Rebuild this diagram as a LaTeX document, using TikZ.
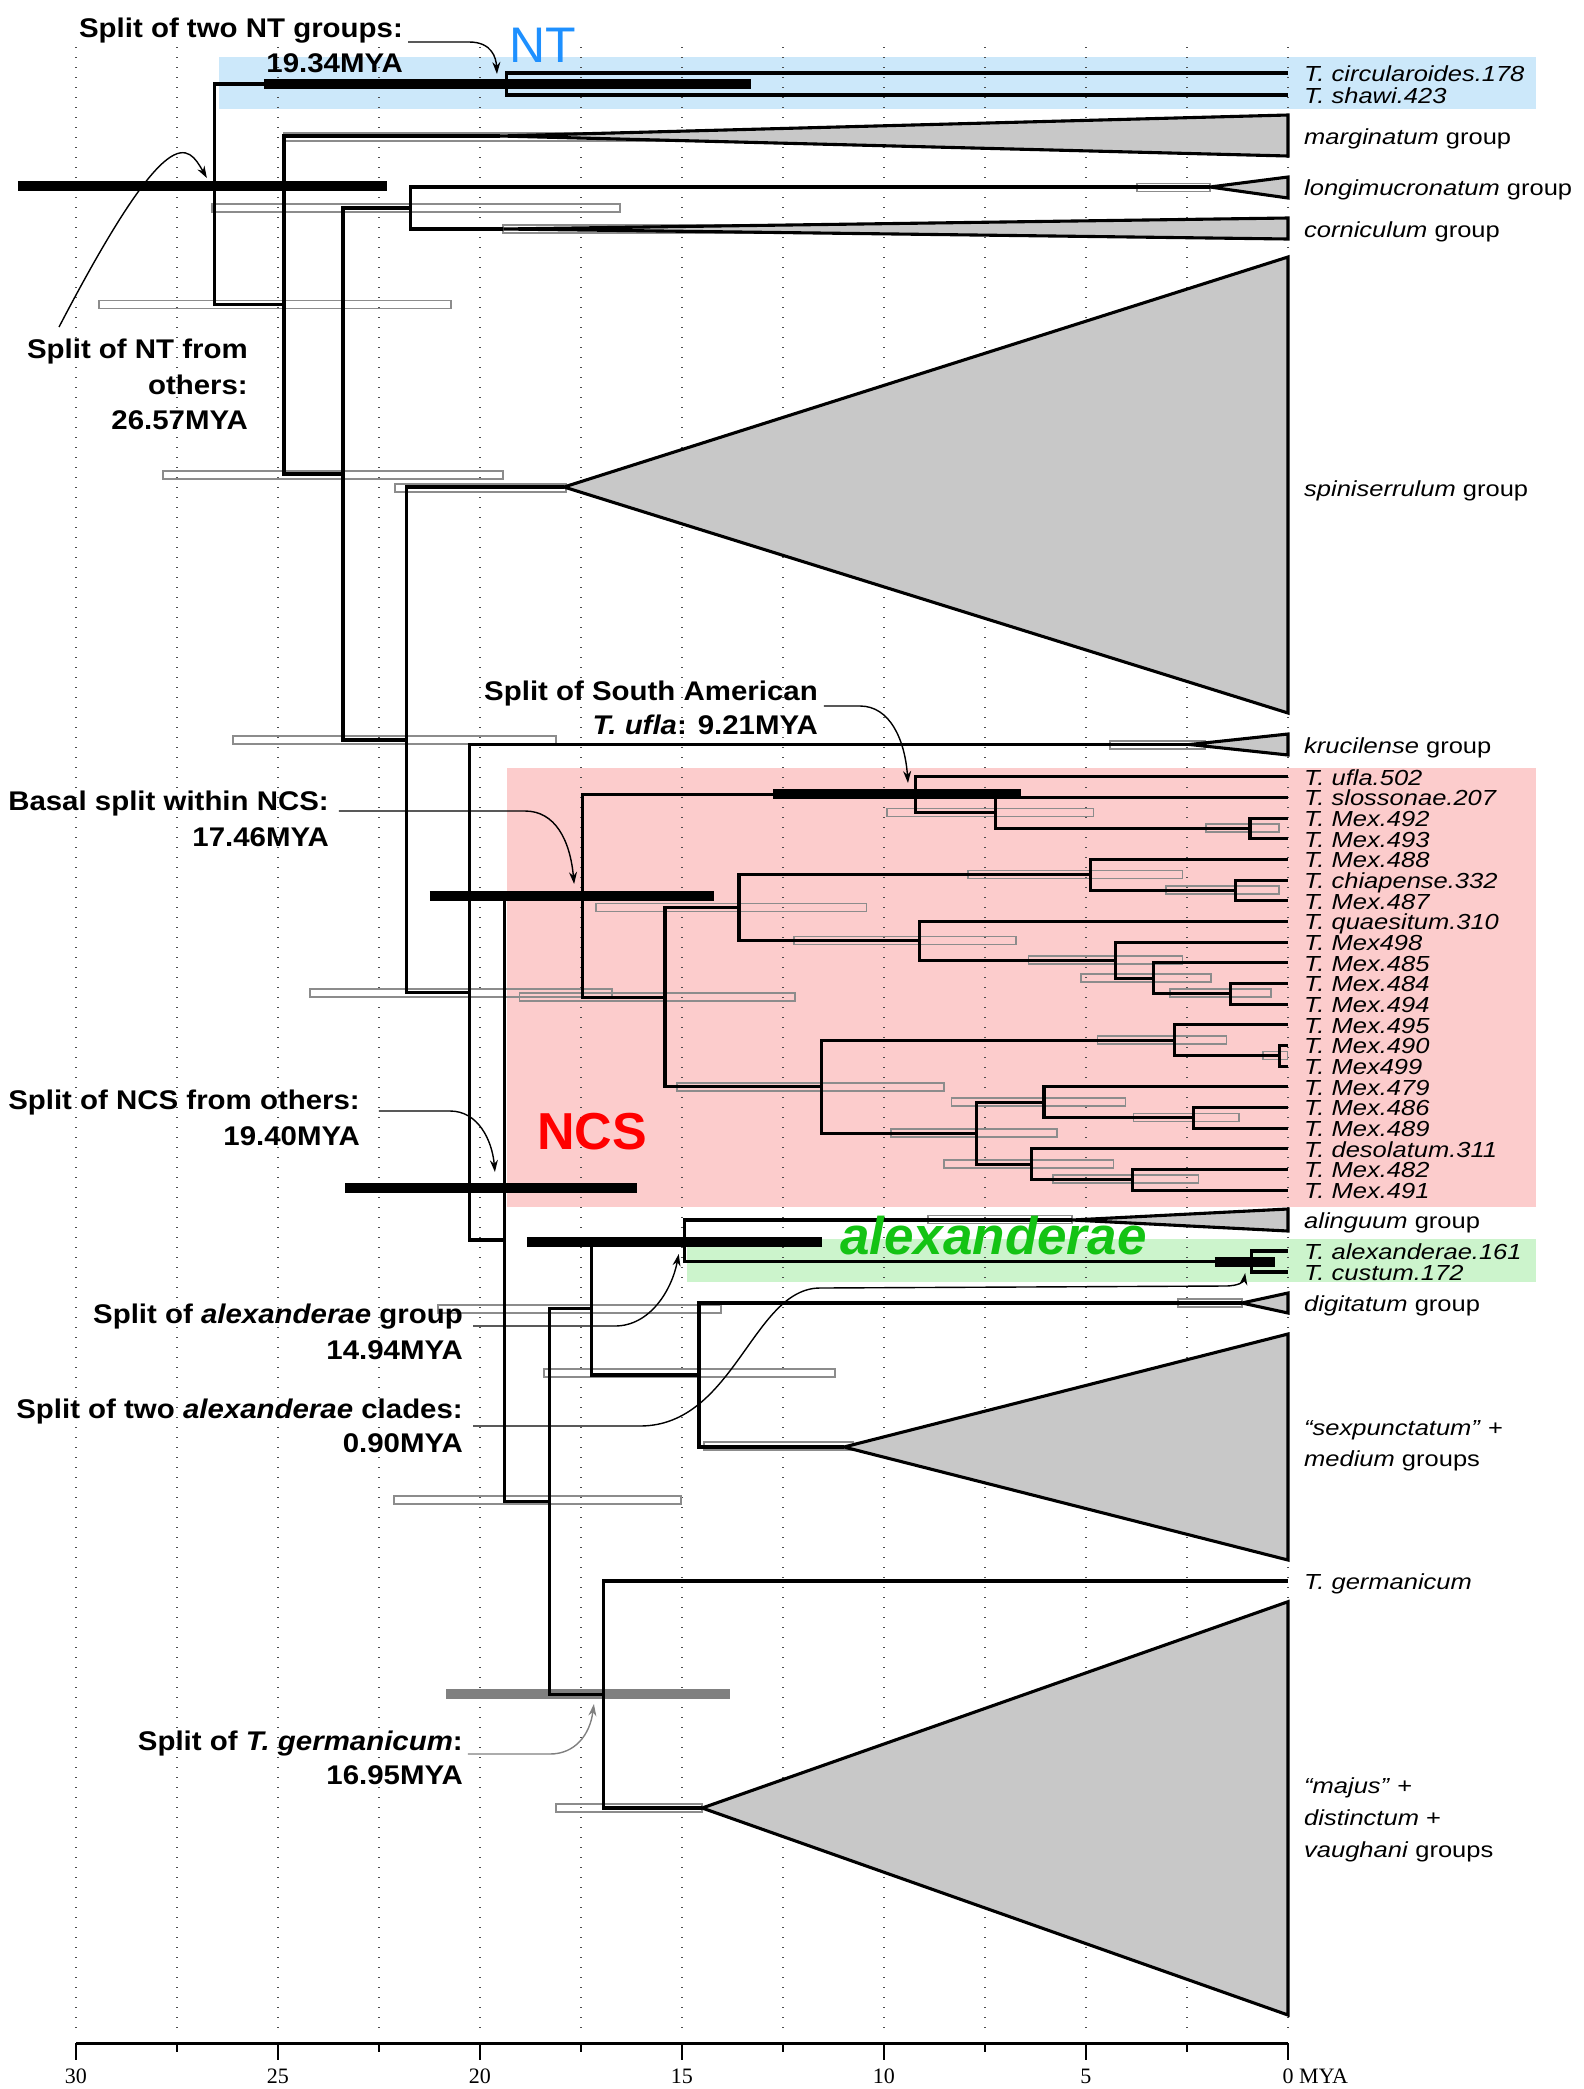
\documentclass[tikz,border=0pt]{standalone}
\usepackage{fontspec}
\setmainfont{Liberation Sans}
\newfontfamily\taxfont{Liberation Sans}[FakeStretch=1.17]
\newfontfamily\notefont{Liberation Sans}[FakeStretch=1.09]
\newfontfamily\axisfont{Liberation Serif}
\usetikzlibrary{arrows.meta}
\definecolor{ntblue}{RGB}{30,144,255}
\definecolor{ntbox}{RGB}{204,232,250}
\definecolor{ncsbox}{RGB}{252,204,204}
\definecolor{alexbox}{RGB}{204,244,204}
\definecolor{alexgreen}{RGB}{20,195,20}
\definecolor{cladefill}{RGB}{200,200,200}

\begin{document}
\begin{tikzpicture}[
        x=-40.4pt, y=-1pt,
        branch/.style={line width=3.1pt, line join=miter},
        clade/.style={line width=3.1pt, fill=cladefill},
        cibar/.style={draw=black!45, line width=1.6pt},
        hpdbar/.style={line width=9.3pt},
        gridline/.style={line width=1.3pt, black!70, dash pattern=on 1.3pt off 8.7pt},
        taxon/.style={font=\taxfont\fontsize{21.8}{24}\selectfont\itshape, anchor=base west, inner sep=0pt, xshift=16pt, yshift=-8.5pt},
        grouplab/.style={taxon, font=\taxfont\fontsize{21.8}{24}\selectfont},
        note/.style={font=\notefont\fontsize{27}{30}\selectfont\bfseries, anchor=base east, inner sep=0pt},
        annot/.style={line width=1.4pt, -{Stealth[length=12pt, width=8pt]}},
        axislab/.style={font=\axisfont\fontsize{22}{24}\selectfont, anchor=base, inner sep=0pt}
        ]
        \useasboundingbox (31.8812,0) rectangle (-7.3267,2089);

        % Highlighted clades
        \fill[ntbox] (26.46,57) rectangle (-6.14,109);
        \fill[ncsbox] (19.33,768) rectangle (-6.14,1207);
        \fill[alexbox] (14.88,1239) rectangle (-6.14,1282);

        % Time grid
        \foreach \t in {0,2.5,...,30}
            \draw[gridline] (\t,47) -- (\t,2028);

        % Node age intervals
        \foreach \a/\b/\y in {29.43/20.72/304.5, 26.63/16.53/208, 24.85/14.16/137, 3.74/1.93/187.5,
                19.43/11.58/229, 27.85/19.43/475, 22.10/17.87/488, 26.11/18.12/740, 4.41/2.05/745,
                24.21/16.73/993, 9.93/4.81/812.5, 2.03/0.22/828, 19.02/12.21/997, 17.13/10.43/907.5,
                7.92/2.61/874.5, 3.02/0.22/890, 12.23/6.73/940.5, 6.42/2.61/960, 5.12/1.91/978,
                2.92/0.42/993, 15.12/8.51/1087, 4.72/1.52/1040, 0.62/0.01/1055.5, 9.83/5.72/1133,
                8.33/4.02/1102, 3.82/1.21/1117.5, 8.51/4.32/1164, 5.82/2.22/1179, 8.91/5.35/1219.5,
                21.04/14.03/1309, 2.72/1.14/1303, 18.42/11.21/1373, 14.46/10.77/1446,
                22.13/15.02/1500, 18.12/14.50/1808}
            \draw[cibar] (\a,\y-4) rectangle (\b,\y+4);

        % Highlighted splits
        \foreach \a/\b/\y in {25.35/13.29/84, 31.44/22.30/186, 21.24/14.21/896, 23.34/16.11/1188,
                12.75/6.61/794, 18.84/11.53/1242, 1.81/0.32/1262}
            \draw[hpdbar] (\a,\y) -- (\b,\y);
        \draw[hpdbar, black!50] (20.84,1694) -- (13.81,1694);

        % Internal nodes
        \coordinate (root) at (26.57,194);
        \coordinate (nt) at (19.34,84);
        \coordinate (n2) at (24.85,304.5);
        \coordinate (n3) at (23.39,474);
        \coordinate (n4) at (21.71,208);
        \coordinate (n5) at (21.83,740);
        \coordinate (n6) at (20.25,992.5);
        \coordinate (n7) at (19.40,1240);
        \coordinate (n8) at (18.29,1501.5);
        \coordinate (n9) at (17.25,1308.5);
        \coordinate (n10) at (14.58,1375);
        \coordinate (alexg) at (14.94,1240.5);
        \coordinate (alexn) at (0.90,1261.5);
        \coordinate (germn) at (16.95,1694.5);
        \coordinate (ncs) at (17.46,896);
        \coordinate (u1) at (9.21,794.8);
        \coordinate (u2) at (7.25,812.9);
        \coordinate (u3) at (0.94,828.4);
        \coordinate (l1) at (15.42,997.3);
        \coordinate (m1) at (13.59,907.8);
        \coordinate (nn1) at (4.88,874.9);
        \coordinate (o1) at (1.29,890.4);
        \coordinate (p1) at (9.11,940.7);
        \coordinate (q1) at (4.28,960.1);
        \coordinate (r1) at (3.32,978.2);
        \coordinate (s1) at (1.42,993.7);
        \coordinate (v1) at (11.55,1086.8);
        \coordinate (w1) at (2.82,1040.2);
        \coordinate (x1) at (0.22,1055.7);
        \coordinate (y1) at (7.71,1133.3);
        \coordinate (z1) at (6.04,1102.3);
        \coordinate (z2) at (2.34,1117.8);
        \coordinate (aa) at (6.34,1164.3);
        \coordinate (ab) at (3.85,1179.8);

        % Collapsed clades (apex)
        \coordinate (margA) at (19.50,136);
        \coordinate (longA) at (1.93,187);
        \coordinate (cornA) at (19.42,229);
        \coordinate (spinA) at (17.92,487);
        \coordinate (krucA) at (2.43,744.5);
        \coordinate (alinA) at (5.35,1220);
        \coordinate (digiA) at (1.14,1303);
        \coordinate (sexA) at (10.99,1447);
        \coordinate (majA) at (14.50,1808);

        % Tips
        \coordinate (circ) at (0,73);
        \coordinate (shawi) at (0,95);
        \coordinate (alexT) at (0,1251);
        \coordinate (custT) at (0,1272);
        \coordinate (germT) at (0,1581);
        \foreach \lab [count=\i from 0] in {ufla.502, slossonae.207, Mex.492, Mex.493, Mex.488,
                chiapense.332, Mex.487, quaesitum.310, Mex498, Mex.485, Mex.484, Mex.494, Mex.495,
                Mex.490, Mex499, Mex.479, Mex.486, Mex.489, desolatum.311, Mex.482, Mex.491} {
            \coordinate (t\i) at (0,776.7+20.67*\i);
            \node[taxon] (lab\i) at (t\i) {T. \lab};
        }

        % Branches
        \foreach \p/\c in {root/nt, root/n2, nt/circ, nt/shawi, n2/margA, n2/n3, n3/n4, n3/n5,
                n4/longA, n4/cornA, n5/spinA, n5/n6, n6/krucA, n6/n7, n7/ncs, n7/n8, n8/n9, n8/germn,
                n9/alexg, n9/n10, alexg/alinA, alexg/alexn, alexn/alexT, alexn/custT, n10/digiA,
                n10/sexA, germn/germT, germn/majA,
                ncs/u1, ncs/l1, u1/t0, u1/u2, u2/t1, u2/u3, u3/t2, u3/t3, l1/m1, l1/v1, m1/nn1, m1/p1,
                nn1/t4, nn1/o1, o1/t5, o1/t6, p1/t7, p1/q1, q1/t8, q1/r1, r1/t9, r1/s1, s1/t10, s1/t11,
                v1/w1, v1/y1, w1/t12, w1/x1, x1/t13, x1/t14, y1/z1, y1/aa, z1/t15, z1/z2, z2/t16,
                z2/t17, aa/t18, aa/ab, ab/t19, ab/t20}
            \draw[branch] (\p) |- (\c);

        \foreach \apex/\top/\bot in {margA/115/156, longA/177/198, cornA/218/239, spinA/257/713,
                krucA/734/755, alinA/1209/1231, digiA/1293/1313, sexA/1334/1560, majA/1601.7/2015}
            \draw[clade] (\apex) -- (0,\top) -- (0,\bot) -- cycle;

        % Tip and group labels
        \node[taxon] (circL) at (circ) {T. circularoides.178};
        \node[taxon] (shawiL) at (shawi) {T. shawi.423};
        \node[grouplab] (margL) at (0,136) {\textit{marginatum} group};
        \node[grouplab] (longL) at (0,187) {\textit{longimucronatum} group};
        \node[grouplab] (cornL) at (0,229) {\textit{corniculum} group};
        \node[grouplab] (spinL) at (0,488) {\textit{spiniserrulum} group};
        \node[grouplab] (krucL) at (0,744.5) {\textit{krucilense} group};
        \node[grouplab] (alinL) at (0,1220) {\textit{alinguum} group};
        \node[taxon] (alexL) at (alexT) {T. alexanderae.161};
        \node[taxon] (custL) at (custT) {T. custum.172};
        \node[grouplab] (digiL) at (0,1303) {\textit{digitatum} group};
        \node[grouplab] (sexL) at (0,1426.5) {\textit{“sexpunctatum”} +};
        \node[grouplab] (sexL2) at (0,1458.2) {\textit{medium} groups};
        \node[taxon] (germL) at (germT) {T. germanicum};
        \node[grouplab] (majL) at (0,1784.5) {\textit{“majus”} +};
        \node[grouplab] (majL2) at (0,1816.5) {\textit{distinctum} +};
        \node[grouplab] (majL3) at (0,1848.5) {\textit{vaughani} groups};

        % Clade names
        \node[font=\fontsize{50}{50}\selectfont, text=ntblue, anchor=base west, inner sep=0pt] (ntname) at (19.28,62.7) {NT};
        \node[font=\fontsize{52}{52}\selectfont\bfseries, text=red, anchor=base west, inner sep=0pt] (ncsname) at (18.59,1149.4) {NCS};
        \node[font=\fontsize{53}{53}\selectfont\bfseries\itshape, text=alexgreen, anchor=base west, inner sep=0pt] (alexname) at (11.09,1254) {alexanderae};

        % Split annotations
        \node[note] (ntgA) at (21.906,37) {Split of two NT groups:};
        \node[note] (ntgB) at (21.906,72.7) {19.34MYA};
        \node[note] (ntoA) at (25.743,358) {Split of NT from};
        \node[note] (ntoB) at (25.743,394) {others:};
        \node[note] (ntoC) at (25.743,429) {26.57MYA};
        \node[note] (uflaA) at (11.634,700.7) {Split of South American};
        \node[note] (uflaB) at (11.634,734) {\textit{T. ufla}: 9.21MYA};
        \node[note] (basA) at (23.738,810.7) {Basal split within NCS:};
        \node[note] (basB) at (23.738,846) {17.46MYA};
        \node[note] (ncsA) at (22.970,1109) {Split of NCS from others:};
        \node[note] (ncsB) at (22.970,1145.6) {19.40MYA};
        \node[note] (agA) at (20.421,1323) {Split of \textit{alexanderae} group};
        \node[note] (agB) at (20.421,1359) {14.94MYA};
        \node[note] (acA) at (20.421,1418) {Split of two \textit{alexanderae} clades:};
        \node[note] (acB) at (20.421,1452.6) {0.90MYA};
        \node[note] (germA) at (20.421,1750) {Split of \textit{T. germanicum}:};
        \node[note] (germB) at (20.421,1784) {16.95MYA};

        % Pointers to the splits
        \coordinate (ntgFrom) at (21.78,42);
        \coordinate (ntgTip) at (19.58,74);
        \coordinate (ntoFrom) at (30.42,327);
        \coordinate (ntoTip) at (26.76,178);
        \coordinate (uflaFrom) at (11.485,706);
        \coordinate (uflaTip) at (9.406,783);
        \coordinate (basFrom) at (23.49,811);
        \coordinate (basTip) at (17.67,884);
        \coordinate (ncsFrom) at (22.5,1111);
        \coordinate (ncsTip) at (19.63,1172);
        \coordinate (agFrom) at (20.17,1326);
        \coordinate (agTip) at (15.08,1254);
        \coordinate (acFrom) at (20.17,1426);
        \coordinate (acTip) at (1.06,1273);
        \coordinate (germFrom) at (20.30,1754);
        \coordinate (germTip) at (17.18,1704);
        \draw[annot] (ntgFrom) -- (20.27,42) .. controls (19.70,42) and (19.60,58) .. (ntgTip);
        \draw[annot] (ntoFrom) .. controls (27.67,114) and (27.23,145) .. (ntoTip);
        \draw[annot] (uflaFrom) -- (10.594,706) .. controls (9.851,706) and (9.480,740) .. (uflaTip);
        \draw[annot] (basFrom) -- (18.886,811) .. controls (18.14,811) and (17.77,840) .. (basTip);
        \draw[annot] (ncsFrom) -- (20.74,1111) .. controls (20.05,1111) and (19.70,1140) .. (ncsTip);
        \draw[annot] (agFrom) -- (16.66,1326) .. controls (15.79,1326) and (15.25,1290) .. (agTip);
        \draw[annot] (acFrom) -- (16.04,1426) .. controls (13.70,1426) and (13.25,1288) .. (11.58,1288)
            -- (1.56,1286) .. controls (1.19,1286) and (1.09,1281) .. (acTip);
        \draw[annot, black!50] (germFrom) -- (18.27,1754) .. controls (17.65,1754) and (17.28,1735) .. (germTip);

        % Time axis
        \draw[line width=3pt] (30,2043) -- (0,2043);
        \foreach \t in {0,5,...,30}
            \draw[line width=1.8pt] (\t,2043) -- (\t,2060);
        \foreach \t in {2.5,7.5,...,27.5}
            \draw[line width=1.8pt] (\t,2043) -- (\t,2052);
        \foreach \t in {30,25,...,5}
            \node[axislab] (ax\t) at (\t,2083) {\t};
        \node[axislab, anchor=base west, xshift=-5.5pt] (ax0) at (0,2083) {0 MYA};

    \end{tikzpicture}
\end{document}
